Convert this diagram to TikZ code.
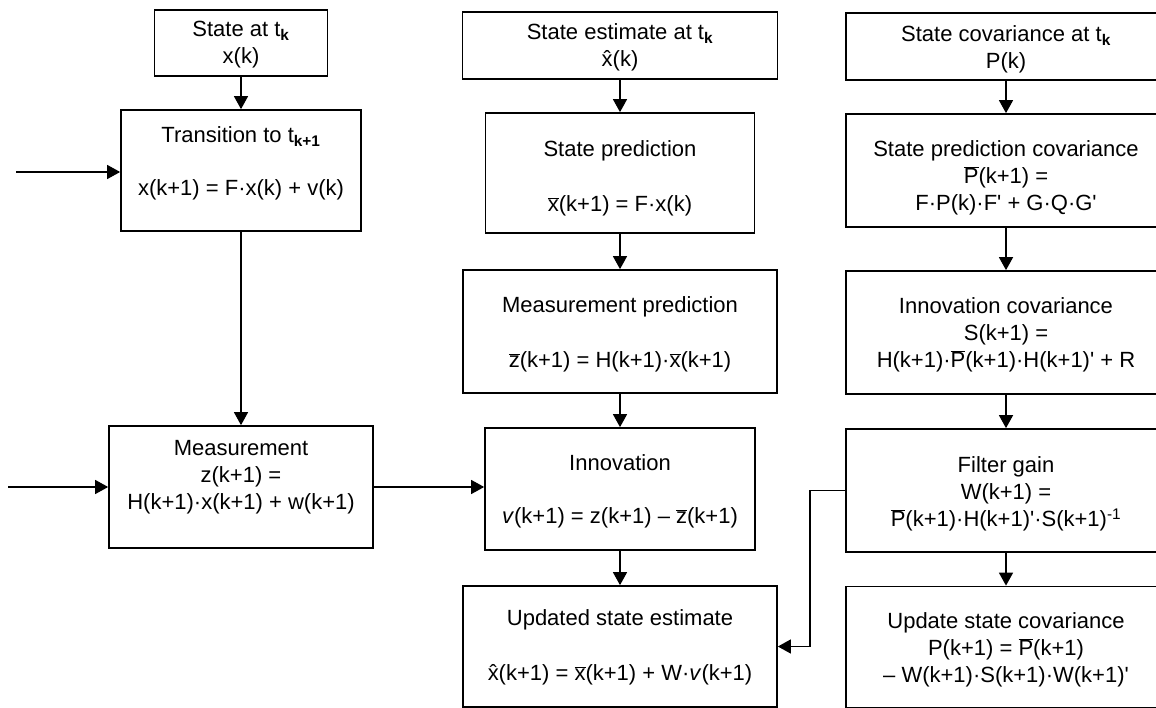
\documentclass[tikz,border=0pt]{standalone}
\usepackage{fontspec}
\setmainfont{Liberation Sans}
\usetikzlibrary{arrows.meta}
\newcommand\ob[1]{\ensuremath{\overline{\mbox{#1}}}}
\newcommand\hx{\ooalign{x\cr\hidewidth\char"02C6\hidewidth\cr}}
\newcommand\cd{\textperiodcentered}
\newcommand\pq{\textquotesingle}
\begin{document}
\begin{tikzpicture}[x=1pt,y=-1pt,
  box/.style={draw,line width=1.7pt,inner sep=0pt},
  txt/.style={font=\fontsize{22}{27}\selectfont,align=center,inner sep=0pt},
  arr/.style={line width=1.4pt,-{Triangle[length=13pt,width=14pt]}}]
\useasboundingbox (0,0) rectangle (1156,708);
\clip (0,0) rectangle (1156,708);
% left column
\node[box,minimum width=173pt,minimum height=66pt] (A) at (241,43) {};
\node[txt] (tA) at (241,45) {State at t\textsubscript{\textbf{k}}\\x(k)};
\node[box,minimum width=240pt,minimum height=121pt] (B) at (241,170.5) {};
\node[txt] (tB) at (241,163) {Transition to t\textsubscript{\textbf{k+1}}\\[26pt]x(k+1) = F\cd x(k) + v(k)};
\node[box,minimum width=264pt,minimum height=122pt] (I) at (241,487) {};
\node[txt] (tI) at (241,477) {Measurement\\z(k+1) =\\H(k+1)\cd x(k+1) + w(k+1)};
% middle column
\node[box,minimum width=315pt,minimum height=67pt] (C) at (620,45.5) {};
\node[txt] (tC) at (620,47) {State estimate at t\textsubscript{\textbf{k}}\\\hx(k)};
\node[box,minimum width=269pt,minimum height=120pt] (D) at (620,173) {};
\node[txt] (tD) at (620,178) {State prediction\\[28pt]\ob{x}(k+1) = F\cd x(k)};
\node[box,minimum width=314pt,minimum height=123pt] (G) at (620,331.5) {};
\node[txt] (tG) at (620,334) {Measurement prediction\\[28pt]\ob{z}(k+1) = H(k+1)\cd\ob{x}(k+1)};
\node[box,minimum width=270pt,minimum height=122pt] (J) at (620,489) {};
\node[txt] (tJ) at (620,491) {Innovation\\[26pt]\textit{v}(k+1) = z(k+1) -- \ob{z}(k+1)};
\node[box,minimum width=314pt,minimum height=121pt] (L) at (620,646.5) {};
\node[txt] (tL) at (620,647) {Updated state estimate\\[28pt]\hx(k+1) = \ob{x}(k+1) + W\cd\textit{v}(k+1)};
% right column
\node[box,minimum width=320pt,minimum height=67pt] (E) at (1006,46.5) {};
\node[txt] (tE) at (1006,49) {State covariance at t\textsubscript{\textbf{k}}\\P(k)};
\node[box,minimum width=320pt,minimum height=113pt] (F) at (1006,170.5) {};
\node[txt] (tF) at (1006,178) {State prediction covariance\\\ob{P}(k+1) =\\F\cd P(k)\cd F\pq{} + G\cd Q\cd G\pq};
\node[box,minimum width=320pt,minimum height=123pt] (H) at (1006,332.5) {};
\node[txt] (tH) at (1006,335) {Innovation covariance\\S(k+1) =\\H(k+1)\cd\ob{P}(k+1)\cd H(k+1)\pq{} + R};
\node[box,minimum width=320pt,minimum height=123pt] (K) at (1006,490.5) {};
\node[txt] (tK) at (1006,494) {Filter gain\\W(k+1) =\\\ob{P}(k+1)\cd H(k+1)\pq\cd S(k+1)\textsuperscript{-1}};
\node[box,minimum width=320pt,minimum height=121pt] (M) at (1006,647) {};
\node[txt] (tM) at (1006,650) {Update state covariance\\P(k+1) = \ob{P}(k+1)\\-- W(k+1)\cd S(k+1)\cd W(k+1)\pq};
% inputs
\coordinate (inB) at (16,172);
\coordinate (inI) at (8,487);
\draw[arr] (inB) -- (inB -| B.west);
\draw[arr] (inI) -- (inI -| I.west);
% connectors
\draw[arr] (A.south) -- (B.north);
\draw[arr] (B.south) -- (I.north);
\draw[arr] (I.east) -- (I.east -| J.west);
\draw[arr] (C.south) -- (D.north);
\draw[arr] (D.south) -- (G.north);
\draw[arr] (G.south) -- (J.north);
\draw[arr] (J.south) -- (L.north);
\draw[arr] (E.south) -- (F.north);
\draw[arr] (F.south) -- (H.north);
\draw[arr] (H.south) -- (K.north);
\draw[arr] (K.south) -- (M.north);
\draw[arr] (K.west) -- ++(-35,0) |- (L.east);
\end{tikzpicture}
\end{document}
